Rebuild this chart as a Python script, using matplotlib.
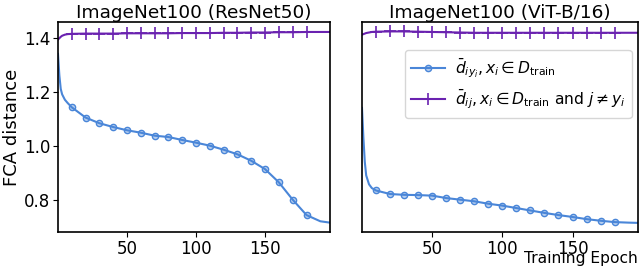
import matplotlib

matplotlib.use("Agg")
import matplotlib.pyplot as plt

epochs = [0, 1, 2, 3, 5, 7, 10, 20, 30, 40, 50, 60, 70, 80, 90, 100,
          110, 120, 130, 140, 150, 160, 170, 180, 190, 197]

# ResNet50
res_same = [1.34, 1.26, 1.21, 1.19, 1.17, 1.158, 1.142, 1.104, 1.083, 1.069,
            1.057, 1.048, 1.037, 1.032, 1.021, 1.011, 1.000, 0.985, 0.968,
            0.944, 0.913, 0.864, 0.800, 0.743, 0.720, 0.715]
res_other = [1.393, 1.398, 1.403, 1.407, 1.411, 1.413, 1.414, 1.415, 1.415,
             1.415, 1.416, 1.416, 1.416, 1.416, 1.417, 1.417, 1.417, 1.418,
             1.418, 1.419, 1.419, 1.420, 1.420, 1.421, 1.421, 1.421]

# ViT-B/16
vit_same = [1.14, 1.03, 0.94, 0.89, 0.857, 0.843, 0.834, 0.821, 0.818, 0.817,
            0.815, 0.806, 0.800, 0.794, 0.785, 0.778, 0.769, 0.760, 0.751,
            0.743, 0.736, 0.728, 0.722, 0.717, 0.715, 0.714]
vit_other = [1.411, 1.413, 1.415, 1.417, 1.419, 1.421, 1.422, 1.423, 1.423,
             1.422, 1.421, 1.420, 1.419, 1.418, 1.418, 1.418, 1.418, 1.418,
             1.418, 1.418, 1.418, 1.418, 1.418, 1.418, 1.418, 1.418]

titles = ["ImageNet100 (ResNet50)", "ImageNet100 (ViT-B/16)"]
label_same = r"$\bar{d}_{iy_i}, x_i \in D_{\rm train}$"
label_other = r"$\bar{d}_{ij}, x_i \in D_{\rm train}$ and $j \neq y_i$"

blue = "#4a86d8"
purple = "#6a22b0"
marks = [i for i, e in enumerate(epochs) if 10 <= e <= 180]

fig = plt.figure(figsize=(6.4, 2.68), dpi=100)
ax1 = fig.add_axes([0.0906, 0.134, 0.425, 0.784])
ax2 = fig.add_axes([0.5656, 0.134, 0.432, 0.784])

for ax, same, other, title in [(ax1, res_same, res_other, titles[0]),
                               (ax2, vit_same, vit_other, titles[1])]:
    ax.plot(epochs, same, "-o", color=blue, lw=1.5, ms=4.5, mfc=blue + "66",
            mec=blue, mew=1.0, markevery=marks, label=label_same)
    ax.plot(epochs, other, "-+", color=purple, lw=1.5, ms=8, mew=1.2,
            markevery=marks, label=label_other)
    ax.set_xlim(0, 197)
    ax.set_ylim(0.68, 1.458)
    ax.set_xticks([50, 100, 150])
    ax.set_title(title, fontsize=13.3, pad=3)
    ax.tick_params(labelsize=12, pad=2)
    for s in ax.spines.values():
        s.set_linewidth(1.2)

ax1.set_yticks([0.8, 1.0, 1.2, 1.4])
ax1.set_ylabel("FCA distance", fontsize=13, labelpad=2)
ax2.set_yticks([])

ax2.legend(loc="upper right", bbox_to_anchor=(0.975, 0.867), borderaxespad=0,
           fontsize=11.2, handlelength=2.2, handletextpad=0.6)
fig.text(0.997, 0.006, "Training Epoch", ha="right", va="bottom", fontsize=11.2)

fig.savefig("out.png", dpi=100)
